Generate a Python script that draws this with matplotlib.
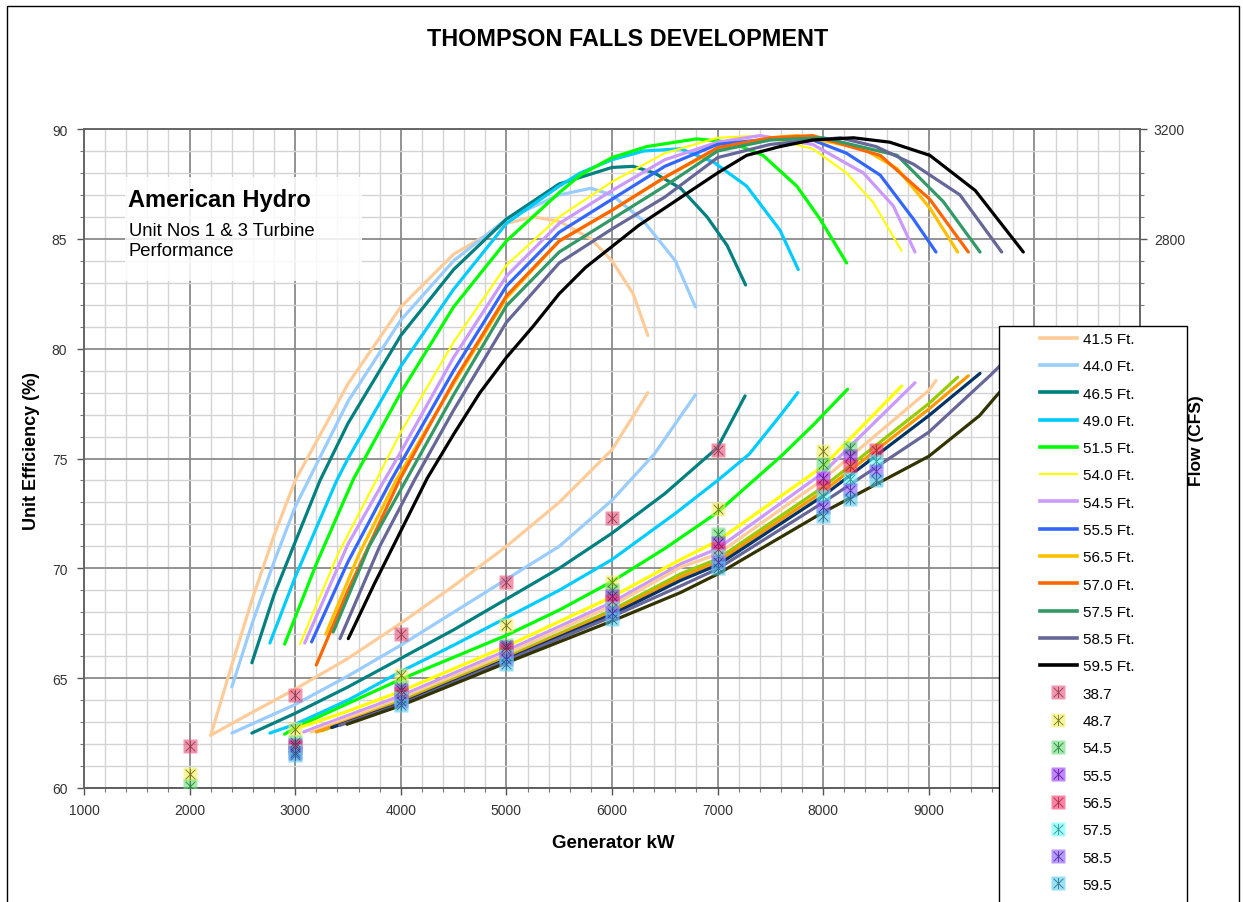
import matplotlib
matplotlib.use("Agg")
import matplotlib.pyplot as plt
from matplotlib.lines import Line2D
from matplotlib.path import Path
from matplotlib.patches import Rectangle
from matplotlib.ticker import MultipleLocator

plt.rcParams['font.family'] = ['Liberation Sans', 'DejaVu Sans']

W, H = 1243, 903

# ---- data -------------------------------------------------------------
heads = ["41.5 Ft.", "44.0 Ft.", "46.5 Ft.", "49.0 Ft.", "51.5 Ft.", "54.0 Ft.",
         "54.5 Ft.", "55.5 Ft.", "56.5 Ft.", "57.0 Ft.", "57.5 Ft.", "58.5 Ft.", "59.5 Ft."]
head_colors = ["#FFCC99", "#99CCFF", "#008080", "#00CCFF", "#00FF00", "#FFFF00",
               "#CC99FF", "#3366FF", "#FFC000", "#FF6600", "#339966", "#666699", "#000000"]
flow_colors = ["#FFCC99", "#99CCFF", "#008080", "#00CCFF", "#00FF00", "#FFFF00",
               "#CC99FF", "#FFCC99", "#99CC00", "#FF9900", "#003366", "#666699", "#333300"]

# unit efficiency (%) vs generator kW
eff_415_kw = [2200, 2400, 2600, 2800, 3000, 3500, 4000, 4500, 5000, 5250, 5500, 5800, 6000, 6200, 6340]
eff_415 = [62.4, 65.6, 68.7, 71.5, 74.0, 78.4, 81.9, 84.3, 85.7, 86.0, 85.8, 85.0, 84.0, 82.5, 80.6]
eff_440_kw = [2400, 2600, 2800, 3000, 3500, 4000, 4500, 5000, 5500, 5800, 6000, 6300, 6600, 6790]
eff_440 = [64.6, 67.6, 70.3, 72.8, 77.6, 81.3, 84.0, 85.9, 87.0, 87.3, 87.0, 85.8, 84.0, 81.9]
eff_465_kw = [2590, 2800, 3000, 3235, 3500, 4000, 4500, 5000, 5500, 6000, 6200, 6400, 6650, 6900, 7090, 7265]
eff_465 = [65.7, 68.8, 71.2, 74.0, 76.6, 80.6, 83.6, 85.9, 87.5, 88.25, 88.3, 88.0, 87.3, 86.0, 84.7, 82.9]
eff_490_kw = [2760, 3000, 3393, 3500, 4000, 4500, 5000, 5500, 5700, 6000, 6300, 6650, 6960, 7275, 7590, 7764]
eff_490 = [66.6, 69.6, 74.0, 75.0, 79.2, 82.7, 85.7, 87.4, 88.0, 88.6, 89.0, 89.1, 88.5, 87.4, 85.4, 83.6]
eff_515_kw = [2900, 3200, 3551, 4000, 4500, 5000, 5500, 5700, 6000, 6330, 6800, 7120, 7430, 7750, 7970, 8222]
eff_515 = [66.55, 70.2, 74.06, 78.0, 81.9, 84.9, 87.1, 87.9, 88.7, 89.2, 89.55, 89.4, 88.8, 87.4, 85.9, 83.9]
eff_540_kw = [3045, 3400, 3772, 4000, 4500, 5000, 5500, 6000, 6500, 7000, 7400, 7900, 8220, 8475, 8743]
eff_540 = [66.55, 70.6, 74.06, 76.2, 80.3, 83.8, 86.0, 87.6, 88.9, 89.6, 89.7, 89.1, 88.0, 86.65, 84.45]
eff_545_kw = [3090, 3500, 3850, 4000, 4500, 5000, 5500, 6000, 6500, 7000, 7400, 7900, 8380, 8664, 8869]
eff_545 = [66.6, 71.1, 74.06, 75.3, 79.6, 83.3, 85.7, 87.2, 88.6, 89.4, 89.7, 89.3, 88.0, 86.5, 84.4]
eff_555_kw = [3155, 3500, 3914, 4500, 5000, 5500, 6000, 6500, 7000, 7600, 7900, 8220, 8540, 8854, 9068]
eff_555 = [66.65, 70.3, 74.06, 79.0, 82.85, 85.3, 86.8, 88.3, 89.3, 89.6, 89.5, 88.9, 87.9, 85.9, 84.4]
eff_565_kw = [3290, 3600, 3961, 4500, 5000, 5500, 6000, 6500, 7000, 7500, 7750, 8380, 8700, 9010, 9273]
eff_565 = [67.0, 70.6, 74.06, 78.4, 82.3, 84.9, 86.3, 87.8, 89.1, 89.6, 89.7, 89.1, 88.2, 86.4, 84.4]
eff_570_kw = [3200, 3500, 3992, 4500, 5000, 5500, 6000, 6500, 7000, 7500, 7900, 8540, 9010, 9374]
eff_570 = [65.6, 69.0, 74.06, 78.5, 82.4, 84.9, 86.3, 87.8, 89.15, 89.6, 89.7, 88.8, 86.8, 84.4]
eff_575_kw = [3360, 3700, 4055, 4500, 5000, 5500, 6000, 6500, 7000, 7500, 8000, 8700, 9136, 9485]
eff_575 = [67.1, 71.0, 74.06, 77.9, 81.95, 84.4, 85.9, 87.4, 89.0, 89.5, 89.6, 88.8, 86.7, 84.4]
eff_585_kw = [3424, 3800, 4134, 4500, 5000, 5500, 6000, 6500, 7000, 7500, 8160, 8500, 8854, 9295, 9690]
eff_585 = [66.8, 71.0, 74.06, 77.2, 81.2, 83.9, 85.45, 86.9, 88.7, 89.3, 89.6, 89.2, 88.4, 87.0, 84.4]
eff_595_kw = [3503, 3750, 4000, 4250, 4500, 4750, 5000, 5250, 5500, 5750, 6000, 6250, 6500, 6750,
              7000, 7275, 7590, 7900, 8285, 8630, 9010, 9440, 9895]
eff_595 = [66.8, 69.3, 71.7, 74.1, 76.1, 78.0, 79.6, 81.0, 82.5, 83.7, 84.65, 85.6, 86.4, 87.2,
           88.0, 88.8, 89.2, 89.5, 89.6, 89.4, 88.8, 87.2, 84.4]

# flow (CFS) vs generator kW
flow_415_kw = [2200, 2500, 3000, 3500, 4000, 4500, 5000, 5500, 6000, 6340]
flow_415 = [992, 1056, 1160, 1272, 1400, 1536, 1680, 1840, 2032, 2240]
flow_440_kw = [2400, 3000, 3500, 4000, 4500, 5000, 5500, 6000, 6400, 6790]
flow_440 = [1000, 1104, 1208, 1320, 1440, 1560, 1680, 1848, 2016, 2232]
flow_465_kw = [2590, 3000, 3500, 4000, 4500, 5000, 5500, 6000, 6500, 7000, 7260]
flow_465 = [1000, 1072, 1168, 1272, 1376, 1488, 1600, 1728, 1872, 2040, 2228]
flow_490_kw = [2760, 3000, 3500, 4000, 4500, 5000, 5500, 6000, 6600, 7000, 7300, 7600, 7760]
flow_490 = [1000, 1032, 1120, 1224, 1320, 1420, 1520, 1632, 1800, 1920, 2016, 2160, 2240]
flow_515_kw = [2900, 3000, 3500, 4000, 4500, 5000, 5500, 6000, 6500, 7000, 7600, 7900, 8230]
flow_515 = [996, 1020, 1108, 1196, 1276, 1356, 1448, 1552, 1672, 1804, 2008, 2120, 2252]
flow_540_kw = [3010, 3500, 4000, 5000, 6000, 6650, 7000, 8000, 8743]
flow_540 = [1016, 1080, 1152, 1316, 1496, 1632, 1700, 1972, 2264]
flow_545_kw = [3080, 4000, 5000, 6000, 6650, 7000, 8000, 8870]
flow_545 = [1004, 1136, 1300, 1476, 1616, 1672, 1948, 2276]
flow_555_kw = [3150, 4000, 5000, 6000, 6650, 7000, 8000, 9000, 9068]
flow_555 = [1004, 1124, 1288, 1464, 1604, 1652, 1924, 2248, 2284]
flow_565_kw = [3250, 4000, 5000, 6000, 6650, 7000, 8000, 9000, 9273]
flow_565 = [1008, 1116, 1276, 1448, 1580, 1634, 1896, 2200, 2296]
flow_570_kw = [3200, 4000, 5000, 6000, 6650, 7000, 8000, 9000, 9374]
flow_570 = [1004, 1112, 1272, 1440, 1568, 1624, 1880, 2180, 2301]
flow_575_kw = [3345, 4000, 5000, 6000, 6650, 7000, 8000, 9000, 9485]
flow_575 = [1020, 1108, 1268, 1432, 1556, 1612, 1864, 2156, 2310]
flow_585_kw = [3420, 4000, 5000, 6000, 6650, 7000, 8000, 9000, 9580, 9690]
flow_585 = [1028, 1104, 1264, 1424, 1536, 1598, 1840, 2096, 2302, 2344]
flow_595_kw = [3490, 4000, 5000, 6000, 6650, 7000, 8000, 9000, 9480, 9640, 9895]
flow_595 = [1032, 1100, 1256, 1408, 1512, 1579, 1804, 2008, 2156, 2228, 2336]

# measured flow points (CFS)
pts_labels = ["38.7", "48.7", "54.5", "55.5", "56.5", "57.5", "58.5", "59.5"]
pts_colors = ["#E8507A", "#F2F060", "#66DD77", "#9933FF", "#FF3366", "#66FFFF", "#8855FF", "#55CCEE"]
pts_edges = ["#883344", "#666600", "#227733", "#551188", "#992244", "#228888", "#442299", "#226688"]
pts_387_kw = [2000, 3000, 4000, 5000, 6000, 7000]
pts_387 = [952, 1140, 1360, 1552, 1784, 2032]
pts_487_kw = [2000, 3000, 4000, 5000, 6000, 7000, 8000]
pts_487 = [852, 1016, 1212, 1392, 1552, 1816, 2028]
pts_545_kw = [2000, 3000, 4000, 5000, 6000, 7000, 8000, 8250]
pts_545 = [808, 968, 1168, 1320, 1520, 1724, 1980, 2040]
pts_555_kw = [3000, 4000, 5000, 6000, 7000, 8000, 8250]
pts_555 = [956, 1156, 1312, 1500, 1692, 1928, 2008]
pts_565_kw = [3000, 4000, 5000, 6000, 7000, 8000, 8250, 8500]
pts_565 = [948, 1144, 1304, 1480, 1672, 1900, 1972, 2032]
pts_575_kw = [3000, 4000, 5000, 6000, 7000, 8000, 8250, 8500]
pts_575 = [936, 1128, 1280, 1456, 1644, 1864, 1924, 1992]
pts_585_kw = [3000, 4000, 5000, 6000, 7000, 8000, 8250, 8500]
pts_585 = [928, 1116, 1268, 1436, 1624, 1824, 1884, 1956]
pts_595_kw = [3000, 4000, 5000, 6000, 7000, 8000, 8250, 8500]
pts_595 = [920, 1104, 1252, 1416, 1600, 1792, 1852, 1920]

eff_kw = [eff_415_kw, eff_440_kw, eff_465_kw, eff_490_kw, eff_515_kw, eff_540_kw, eff_545_kw,
          eff_555_kw, eff_565_kw, eff_570_kw, eff_575_kw, eff_585_kw, eff_595_kw]
eff_val = [eff_415, eff_440, eff_465, eff_490, eff_515, eff_540, eff_545,
           eff_555, eff_565, eff_570, eff_575, eff_585, eff_595]
flow_kw = [flow_415_kw, flow_440_kw, flow_465_kw, flow_490_kw, flow_515_kw, flow_540_kw, flow_545_kw,
           flow_555_kw, flow_565_kw, flow_570_kw, flow_575_kw, flow_585_kw, flow_595_kw]
flow_val = [flow_415, flow_440, flow_465, flow_490, flow_515, flow_540, flow_545,
            flow_555, flow_565, flow_570, flow_575, flow_585, flow_595]
pts_kw = [pts_387_kw, pts_487_kw, pts_545_kw, pts_555_kw, pts_565_kw, pts_575_kw, pts_585_kw, pts_595_kw]
pts_val = [pts_387, pts_487, pts_545, pts_555, pts_565, pts_575, pts_585, pts_595]

# ---- figure -----------------------------------------------------------
fig = plt.figure(figsize=(W / 100, H / 100), dpi=100)
fig.patch.set_facecolor("white")

L, R, T, B = 84, 1140, 130, 789
ax1 = fig.add_axes([L / W, 1 - B / H, (R - L) / W, (B - T) / H])
ax2 = ax1.twinx()

ax1.set_xlim(1000, 11000)
ax1.set_ylim(60, 90)
ax2.set_ylim(800, 3200)

ax1.xaxis.set_major_locator(MultipleLocator(1000))
ax1.xaxis.set_minor_locator(MultipleLocator(200))
ax1.yaxis.set_major_locator(MultipleLocator(5))
ax1.yaxis.set_minor_locator(MultipleLocator(1))
ax2.yaxis.set_major_locator(MultipleLocator(400))
ax2.yaxis.set_minor_locator(MultipleLocator(80))

ax1.grid(which="major", color="#8a8a8a", lw=1.3)
ax1.grid(which="minor", color="#d4d4d4", lw=1.0)
ax1.set_axisbelow(True)

for a in (ax1, ax2):
    a.tick_params(which="major", direction="out", length=5, width=1, color="#555555",
                  labelsize=10, labelcolor="#333333")
    a.tick_params(which="minor", direction="out", length=3, width=0.8, color="#777777")
    for s in a.spines.values():
        s.set_color("#666666")
        s.set_linewidth(1.2)
ax1.spines["bottom"].set_color("#333333")
ax1.tick_params(axis="y", pad=7)
ax1.tick_params(axis="x", pad=6)
ax2.tick_params(axis="y", pad=5)

# curves
for i in range(len(heads)):
    lw = 1.5 if heads[i] == "54.0 Ft." else 2.3
    ax1.plot(eff_kw[i], eff_val[i], color=head_colors[i], lw=lw, solid_capstyle="round", zorder=3)
    ax2.plot(flow_kw[i], flow_val[i], color=flow_colors[i], lw=2.3, solid_capstyle="round", zorder=3)

star = Path([(-1, -1), (1, 1), (-1, 1), (1, -1), (0, -1.15), (0, 1.15)],
            [Path.MOVETO, Path.LINETO] * 3)

marker_handles = []
for i in range(len(pts_labels)):
    ax2.plot(pts_kw[i], pts_val[i], ls="none", marker="s", ms=9.5, mfc=pts_colors[i],
             mec="none", alpha=0.6, zorder=4)
    ax2.plot(pts_kw[i], pts_val[i], ls="none", marker=star, ms=8, mfc="none",
             mec=pts_edges[i], mew=0.7, alpha=0.8, zorder=5)
    sq = Line2D([], [], ls="none", marker="s", ms=9.5, mfc=pts_colors[i], mec="none", alpha=0.6)
    st = Line2D([], [], ls="none", marker=star, ms=8, mfc="none", mec=pts_edges[i], mew=0.7, alpha=0.8)
    marker_handles.append((sq, st))

# texts
fig.text(628 / W, 1 - 40 / H, "THOMPSON FALLS DEVELOPMENT", ha="center", va="center",
         fontsize=16.8, fontweight="bold")
fig.text(32 / W, 1 - 451 / H, "Unit Efficiency (%)", ha="center", va="center",
         rotation=90, fontsize=13, fontweight="bold")
fig.text(613 / W, 1 - 844 / H, "Generator kW", ha="center", va="center",
         fontsize=13.5, fontweight="bold")
fig.text(1197 / W, 1 - 441 / H, "Flow (CFS)", ha="center", va="center",
         rotation=90, fontsize=12.5, fontweight="bold")

# annotation box
fig.add_artist(Rectangle((125 / W, 1 - 282 / H), (362 - 125) / W, (282 - 178) / H,
                         transform=fig.transFigure, facecolor="white", edgecolor="none",
                         alpha=0.85, zorder=2))
fig.text(128 / W, 1 - 200 / H, "American Hydro", ha="left", va="center",
         fontsize=17, fontweight="bold", zorder=3)
fig.text(129 / W, 1 - 231 / H, "Unit Nos 1 & 3 Turbine", ha="left", va="center",
         fontsize=13.3, zorder=3)
fig.text(129 / W, 1 - 252 / H, "Performance", ha="left", va="center",
         fontsize=13.3, zorder=3)

# legend
fig.add_artist(Rectangle((999 / W, -0.02), (1187 - 999) / W, (903 - 327) / H + 0.02,
                         transform=fig.transFigure, facecolor="white", edgecolor="black",
                         lw=1.0, zorder=4))
line_handles = [Line2D([], [], color=c, lw=(1.5 if h == "54.0 Ft." else 2.6))
                for c, h in zip(head_colors, heads)]
fig.legend(line_handles + marker_handles, heads + pts_labels,
           loc="upper left", bbox_to_anchor=(1040 / W, 1 - 333 / H),
           frameon=False, fontsize=11, handlelength=2.4, handletextpad=0.4,
           labelspacing=0.87, borderpad=0, borderaxespad=0)

# outer frame
fig.add_artist(Rectangle((7 / W, -0.02), (1239 - 7) / W, (903 - 7) / H + 0.02,
                         transform=fig.transFigure, fill=False, edgecolor="black", lw=1.0))

fig.savefig("out.png", dpi=100, facecolor="white")
